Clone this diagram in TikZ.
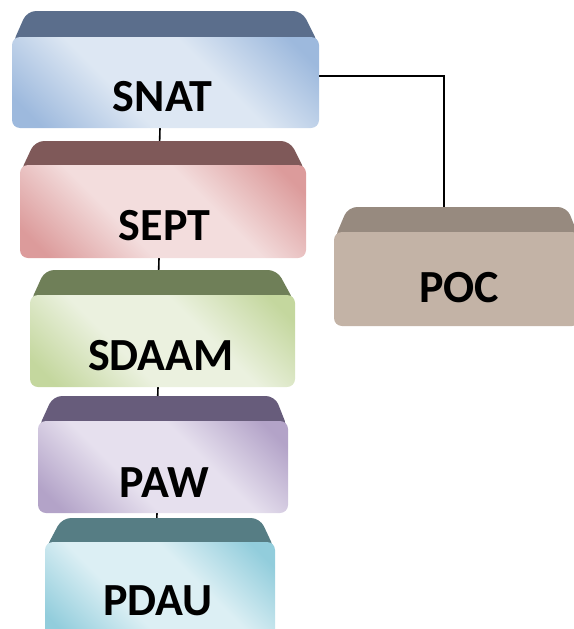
\documentclass[tikz,border=0pt]{standalone}
\usepackage{fontspec}
\setmainfont{Carlito}
\usetikzlibrary{backgrounds}
\definecolor{snatB}{HTML}{5B6E8C}\definecolor{snatL}{HTML}{DDE7F3}\definecolor{snatD}{HTML}{9DB9DD}
\definecolor{septB}{HTML}{7F5959}\definecolor{septL}{HTML}{F3DDDD}\definecolor{septD}{HTML}{DC9B9B}
\definecolor{sdaamB}{HTML}{6F7F58}\definecolor{sdaamL}{HTML}{EBF1DF}\definecolor{sdaamD}{HTML}{C4D79E}
\definecolor{pawB}{HTML}{675C7B}\definecolor{pawL}{HTML}{E6E0EE}\definecolor{pawD}{HTML}{B3A3C8}
\definecolor{pdauB}{HTML}{567D84}\definecolor{pdauL}{HTML}{DCEFF4}\definecolor{pdauD}{HTML}{92CDDC}
\definecolor{pocB}{HTML}{978A7F}\definecolor{pocF}{HTML}{C3B3A6}
\newcommand\mkfsh[3]{\pgfdeclarehorizontalshading{#1}{100bp}{color(0bp)=(#2); color(20bp)=(#2); color(40bp)=(#3); color(60bp)=(#3); color(80bp)=(#2); color(100bp)=(#2)}}
\mkfsh{snatSh}{snatD}{snatL}
\mkfsh{septSh}{septD}{septL}
\mkfsh{sdaamSh}{sdaamD}{sdaamL}
\mkfsh{pawSh}{pawD}{pawL}
\mkfsh{pdauSh}{pdauD}{pdauL}
\tikzset{
  face/.style={rectangle, rounded corners=8pt, inner sep=0pt},
  shface/.style={face, shading=#1, shading angle=45},
  bevel/.style={rounded corners=9pt},
  lbl/.style={anchor=base, inner sep=0pt, font=\fontsize{46}{52}\selectfont\bfseries},
  conn/.style={draw=black, line width=1.6pt}
}
\begin{document}
\begin{tikzpicture}[x=1pt,y=-1pt]
\useasboundingbox (0,0) rectangle (573,629);
% SNAT
\fill[bevel, snatB] (12,45) -- (27,11) -- (302,11) -- (319,45) -- cycle;
\node[shface=snatSh, minimum width=307pt, minimum height=91pt] (snat) at (165.5,82.5) {};
\node[lbl] (snatT) at (162.5,111) {SNAT};
% SEPT
\fill[bevel, septB] (20,173) -- (35,141) -- (290,141) -- (306,173) -- cycle;
\node[shface=septSh, minimum width=286pt, minimum height=93pt] (sept) at (163,211.5) {};
\node[lbl] (septT) at (164.5,240) {SEPT};
% SDAAM
\fill[bevel, sdaamB] (30,303) -- (45,270) -- (277,270) -- (295,303) -- cycle;
\node[shface=sdaamSh, minimum width=265pt, minimum height=92pt] (sdaam) at (162.5,341) {};
\node[lbl] (sdaamT) at (161,370) {SDAAM};
% PAW
\fill[bevel, pawB] (38,429) -- (53,396) -- (275,396) -- (288,429) -- cycle;
\node[shface=pawSh, minimum width=250pt, minimum height=92pt] (paw) at (163,467) {};
\node[lbl] (pawT) at (164.5,497) {PAW};
% PDAU
\fill[bevel, pdauB] (45,550) -- (62,518) -- (260,518) -- (275,550) -- cycle;
\node[shface=pdauSh, minimum width=230pt, minimum height=98pt] (pdau) at (160,591) {};
\node[lbl] (pdauT) at (158,615) {PDAU};
% POC
\fill[bevel, pocB] (334,240) -- (348,207) -- (567,207) -- (580,240) -- cycle;
\node[face, fill=pocF, minimum width=246pt, minimum height=94pt] (poc) at (457,279) {};
\node[lbl] (pocT) at (459,302) {POC};
% connectors
\begin{scope}[on background layer]
\draw[conn] ([xshift=-5.5pt]snat.south) -- ([xshift=-4pt]sept.north);
\draw[conn] ([xshift=-4pt]sept.south) -- ([xshift=-4.5pt]sdaam.north);
\draw[conn] ([xshift=-4.5pt]sdaam.south) -- ([xshift=-6pt]paw.north);
\draw[conn] ([xshift=-6pt]paw.south) -- ([xshift=-4pt]pdau.north);
\draw[conn] ([yshift=6.5pt]snat.east) -| ([xshift=-13pt]poc.north);
\end{scope}
\end{tikzpicture}
\end{document}
